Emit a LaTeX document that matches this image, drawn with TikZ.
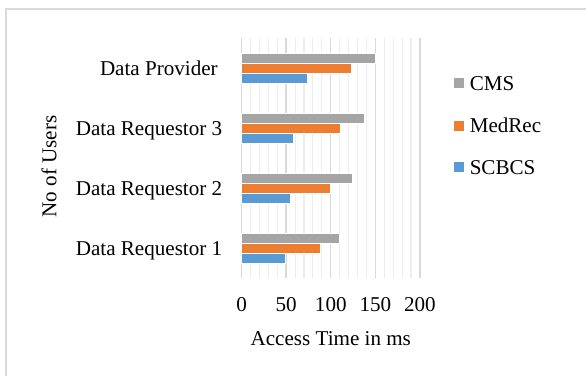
\documentclass[tikz,border=0pt]{standalone}
\usepackage{fontspec}
\setmainfont{Liberation Serif}
\usetikzlibrary{positioning}

\definecolor{cmsgray}{HTML}{A5A5A5}
\definecolor{medorange}{HTML}{ED7D31}
\definecolor{scbblue}{HTML}{5B9BD5}
\definecolor{majorgrid}{HTML}{D9D9D9}
\definecolor{minorgrid}{HTML}{EDEDED}
\definecolor{framegray}{HTML}{D9D9D9}

\tikzset{
  every node/.style={font=\fontsize{15}{18}\selectfont},
  hbar/.style={draw=white, line width=0.3pt},
  majorline/.style={draw=majorgrid, line width=1pt},
  minorline/.style={draw=minorgrid, line width=0.8pt},
  catlabel/.style={anchor=base east, inner sep=0pt},
  ticklabel/.style={anchor=base, inner sep=0pt},
  keybox/.style={minimum size=0.25cm, inner sep=0pt, draw=none},
  keytext/.style={anchor=west, inner sep=0pt}
}

\begin{document}
\begin{tikzpicture}
  \useasboundingbox (0cm,0cm) rectangle (14.65cm,-9.4cm);
  % chart frame, runs off the page to the right and below
  \draw[framegray, line width=1pt] (0.15cm,-9.4cm) -- (0.15cm,-0.22cm) -- (14.65cm,-0.22cm);

  % value axis: one unit of access time per x step
  \begin{scope}[shift={(6.04cm,0cm)}, x=0.0223cm]
    \foreach \v in {10,20,30,40,60,70,80,90,110,120,130,140,160,170,180,190}
      \draw[minorline] (\v,-0.96cm) -- (\v,-6.96cm);
    \foreach \v in {0,50,100,150,200}
      \draw[majorline] (\v,-0.96cm) -- (\v,-6.96cm);

    % Data Provider
    \filldraw[hbar, fill=cmsgray] (0,-1.34cm) rectangle (150,-1.585cm);
    \filldraw[hbar, fill=medorange] (0,-1.585cm) rectangle (123,-1.83cm);
    \filldraw[hbar, fill=scbblue] (0,-1.83cm) rectangle (74,-2.075cm);
    % Data Requestor 3
    \filldraw[hbar, fill=cmsgray] (0,-2.84cm) rectangle (138,-3.085cm);
    \filldraw[hbar, fill=medorange] (0,-3.085cm) rectangle (111,-3.33cm);
    \filldraw[hbar, fill=scbblue] (0,-3.33cm) rectangle (58,-3.575cm);
    % Data Requestor 2
    \filldraw[hbar, fill=cmsgray] (0,-4.34cm) rectangle (124,-4.585cm);
    \filldraw[hbar, fill=medorange] (0,-4.585cm) rectangle (99,-4.83cm);
    \filldraw[hbar, fill=scbblue] (0,-4.83cm) rectangle (54,-5.075cm);
    % Data Requestor 1
    \filldraw[hbar, fill=cmsgray] (0,-5.84cm) rectangle (110,-6.085cm);
    \filldraw[hbar, fill=medorange] (0,-6.085cm) rectangle (88,-6.33cm);
    \filldraw[hbar, fill=scbblue] (0,-6.33cm) rectangle (49,-6.575cm);

    \foreach \v in {0,50,100,150,200}
      \node[ticklabel] (tick\v) at (\v,-7.79cm) {\v};
  \end{scope}

  % category names
  \node[catlabel] (provider) at (5.45cm,-1.89cm) {Data Provider};
  \node[catlabel] (requestor3) at (5.5625cm,-3.39cm) {Data Requestor 3};
  \node[catlabel] (requestor2) at (5.5625cm,-4.89cm) {Data Requestor 2};
  \node[catlabel] (requestor1) at (5.5625cm,-6.39cm) {Data Requestor 1};

  % axis titles
  \node[rotate=90, anchor=base, inner sep=0pt] (usersaxis) at (1.41cm,-4.16cm) {No of Users};
  \node[anchor=base, inner sep=0pt] (timeaxis) at (8.27cm,-8.625cm) {Access Time in ms};

  % legend
  \node[keybox, fill=cmsgray] (keycms) at (11.485cm,-2.083cm) {};
  \node[keytext, right=0.12cm of keycms] (keycmstext) {CMS};
  \node[keybox, fill=medorange] (keymed) at (11.485cm,-3.14cm) {};
  \node[keytext, right=0.12cm of keymed] (keymedtext) {MedRec};
  \node[keybox, fill=scbblue] (keyscb) at (11.485cm,-4.18cm) {};
  \node[keytext, right=0.12cm of keyscb] (keyscbtext) {SCBCS};
\end{tikzpicture}
\end{document}
